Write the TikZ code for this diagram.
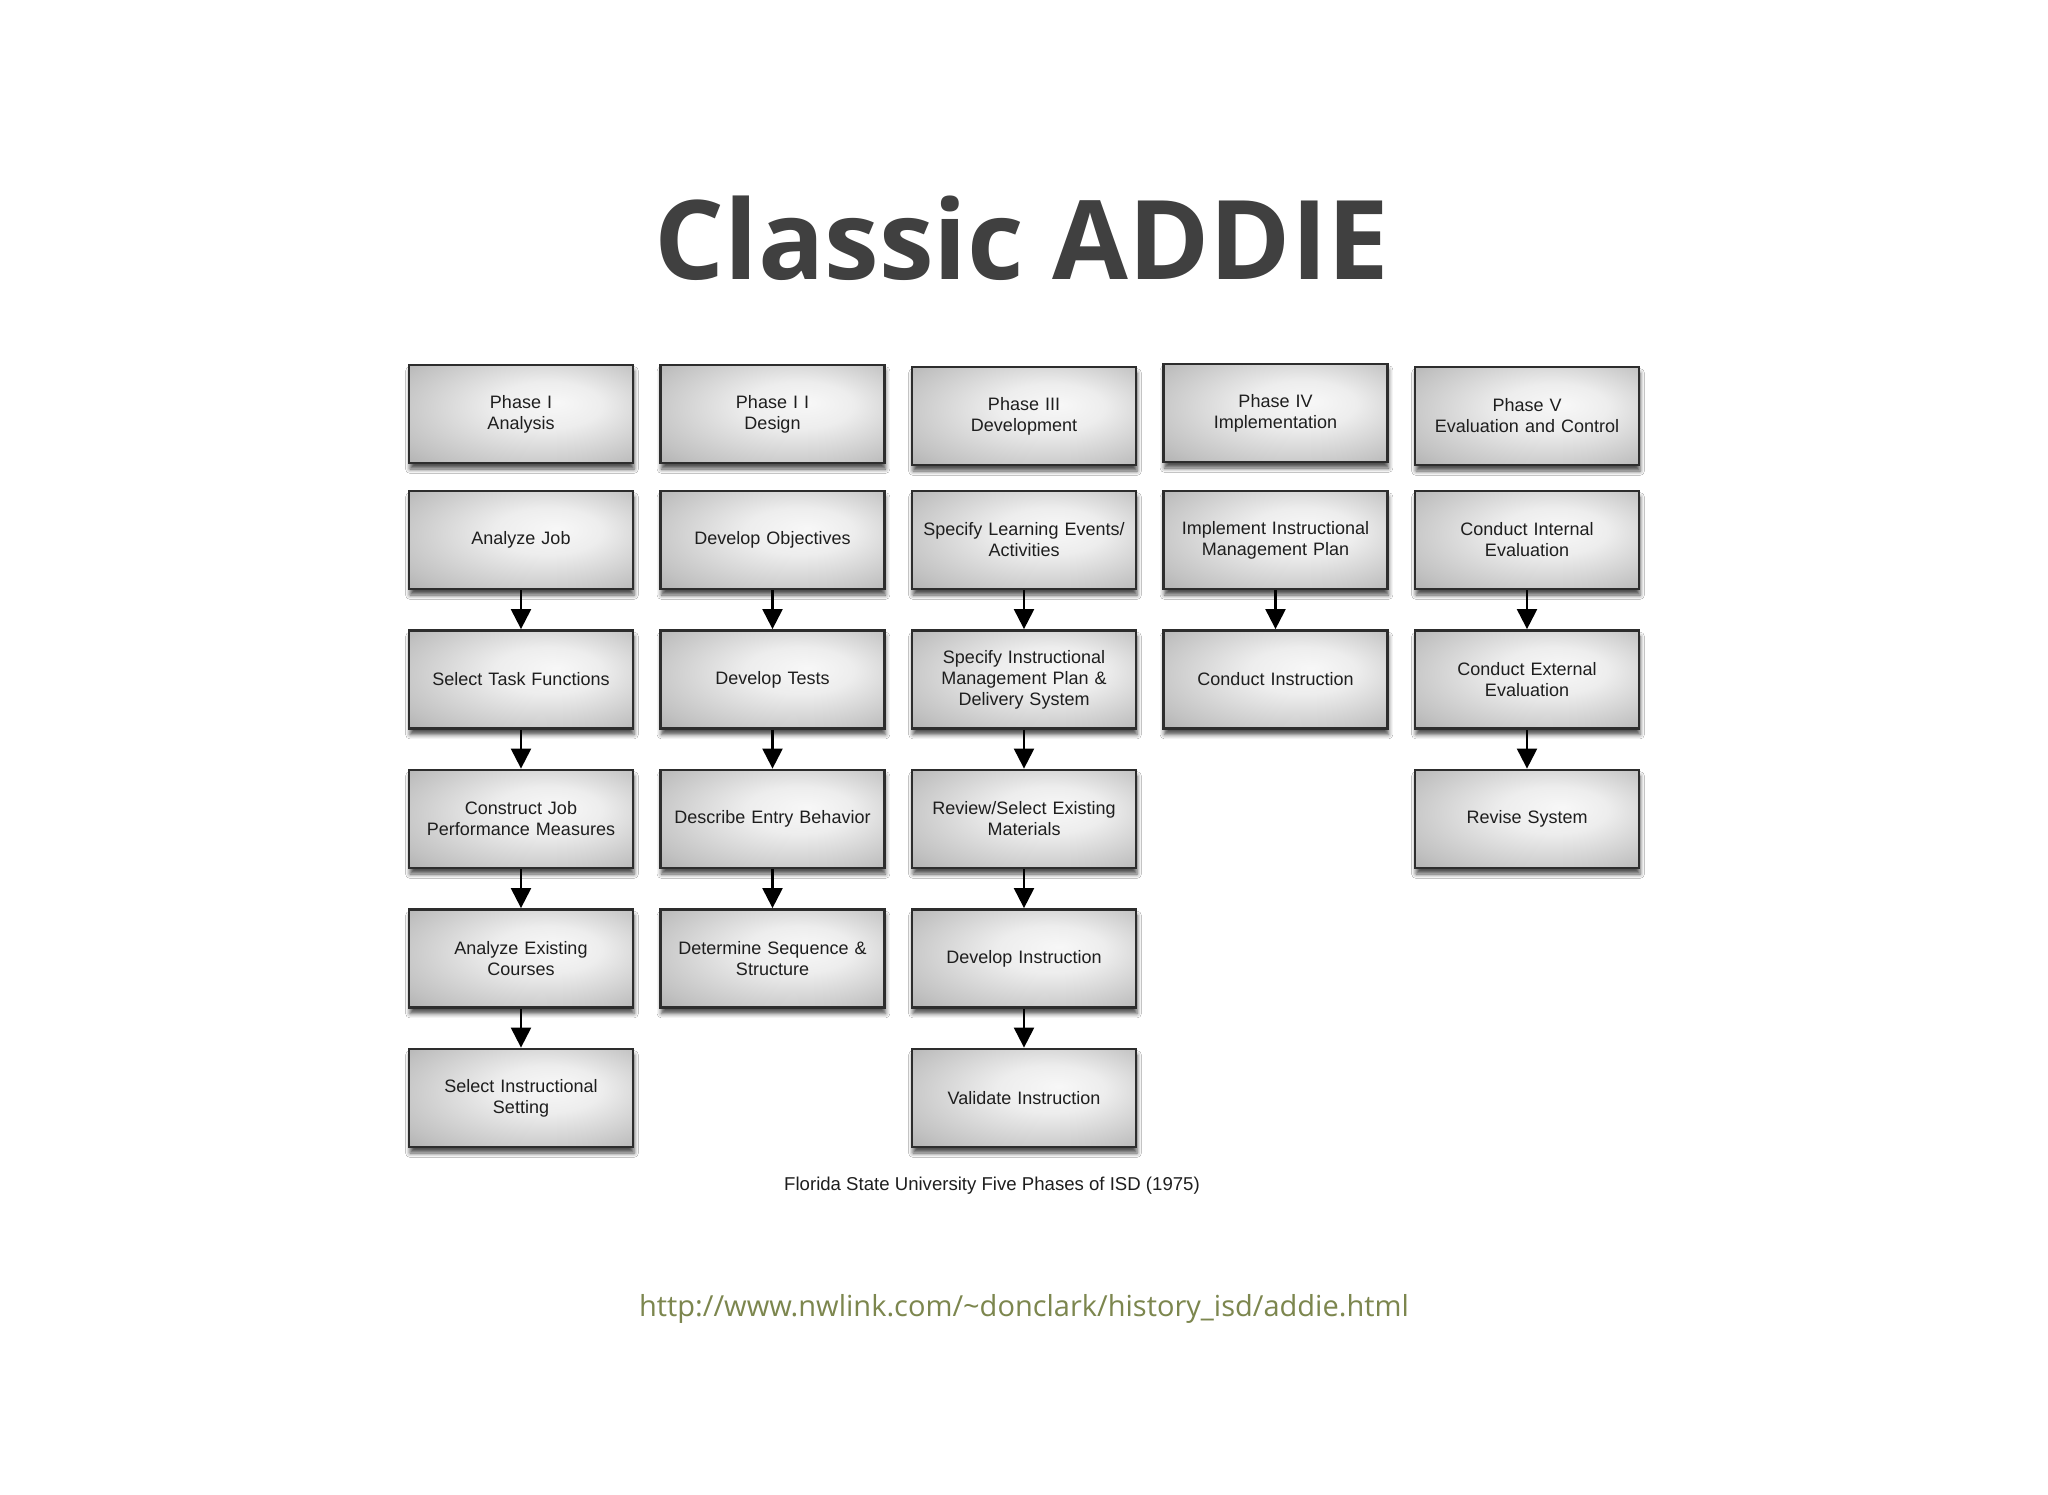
\documentclass[tikz,border=0pt]{standalone}
\usepackage{fontspec}
\setmainfont{Liberation Sans}
\newfontfamily\opensans{Open Sans}
\usetikzlibrary{arrows.meta,shadows.blur}
\definecolor{titlegray}{RGB}{64,64,64}
\definecolor{urlgreen}{RGB}{124,134,78}
\definecolor{boxline}{RGB}{45,45,45}
\definecolor{boxtext}{RGB}{30,30,30}
\pgfdeclareradialshading{boxshade}{\pgfpoint{8bp}{6bp}}{color(0bp)=(white!97!black); color(12bp)=(white!93!black); color(32bp)=(black!24); color(50bp)=(black!42)}
\tikzset{
  stepbox/.style={draw=boxline, line width=1.4pt, shading=boxshade,
    minimum width=112pt, minimum height=49pt, inner sep=2pt,
    align=center, text width=108pt, font=\fontsize{9pt}{10.5pt}\selectfont, text=boxtext,
    blur shadow={shadow xshift=0.5pt, shadow yshift=-3pt, shadow blur radius=2.2pt, shadow opacity=70}},
  arr/.style={-{Triangle[width=10pt,length=10pt]}, line width=1.1pt, black}
}
\begin{document}
\begin{tikzpicture}[x=0.5pt,y=-0.5pt]
\useasboundingbox[fill=white] (0,0) rectangle (2048,1494);
\node[font=\opensans\bfseries\fontsize{55pt}{60pt}\selectfont, text=titlegray, anchor=base] (title) at (1022,279) {Classic ADDIE};
% Phase row
\node[stepbox] (p1) at (521,414) {Phase I\\Analysis};
\node[stepbox] (p2) at (772.5,414) {Phase I I\\Design};
\node[stepbox] (p3) at (1024,416) {Phase III\\Development};
\node[stepbox] (p4) at (1275.5,413) {Phase IV\\Implementation};
\node[stepbox] (p5) at (1527,416) {Phase V\\Evaluation and Control};
% Column 1
\node[stepbox] (a1) at (521,540) {Analyze Job};
\node[stepbox] (a2) at (521,679.5) {Select Task Functions};
\node[stepbox] (a3) at (521,819) {Construct Job\\Performance Measures};
\node[stepbox] (a4) at (521,958.5) {Analyze Existing\\Courses};
\node[stepbox] (a5) at (521,1098) {Select Instructional\\Setting};
% Column 2
\node[stepbox] (b1) at (772.5,540) {Develop Objectives};
\node[stepbox] (b2) at (772.5,679.5) {Develop Tests};
\node[stepbox] (b3) at (772.5,819) {Describe Entry Behavior};
\node[stepbox] (b4) at (772.5,958.5) {Determine Sequence \&\\Structure};
% Column 3
\node[stepbox] (c1) at (1024,540) {Specify Learning Events/\\Activities};
\node[stepbox] (c2) at (1024,679.5) {Specify Instructional\\Management Plan \&\\Delivery System};
\node[stepbox] (c3) at (1024,819) {Review/Select Existing\\Materials};
\node[stepbox] (c4) at (1024,958.5) {Develop Instruction};
\node[stepbox] (c5) at (1024,1098) {Validate Instruction};
% Column 4
\node[stepbox] (d1) at (1275.5,540) {Implement Instructional\\Management Plan};
\node[stepbox] (d2) at (1275.5,679.5) {Conduct Instruction};
% Column 5
\node[stepbox] (e1) at (1527,540) {Conduct Internal\\Evaluation};
\node[stepbox] (e2) at (1527,679.5) {Conduct External\\Evaluation};
\node[stepbox] (e3) at (1527,819) {Revise System};
% arrows
\foreach \u/\v in {a1/a2,a2/a3,a3/a4,a4/a5,b1/b2,b2/b3,b3/b4,c1/c2,c2/c3,c3/c4,c4/c5,d1/d2,e1/e2,e2/e3}
  \draw[arr] (\u.south) -- (\v.north);
\node[font=\fontsize{9.3pt}{11pt}\selectfont, text=boxtext] (cap) at (992,1186) {Florida State University Five Phases of ISD (1975)};
\node[font=\opensans\fontsize{14.5pt}{17pt}\selectfont, text=urlgreen] (url) at (1024,1309) {http://www.nwlink.com/\textasciitilde donclark/history\_isd/addie.html};
\end{tikzpicture}
\end{document}
